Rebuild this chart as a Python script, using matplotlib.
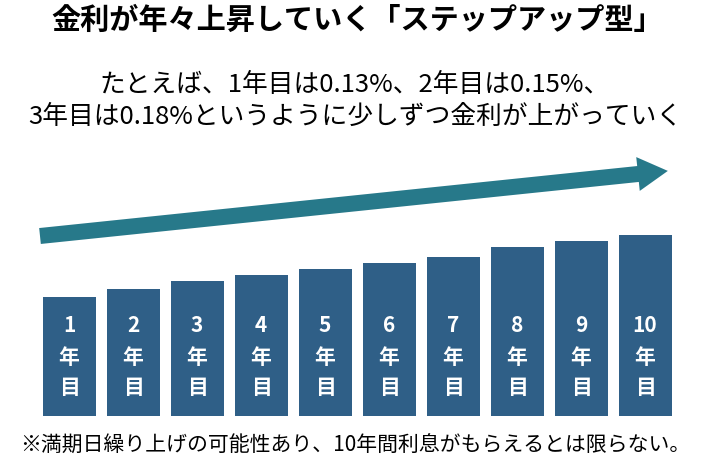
import numpy as np
import matplotlib.pyplot as plt
from matplotlib.patches import FancyArrow

plt.rcParams['font.family'] = 'Noto Sans CJK JP'

years = ["1", "2", "3", "4", "5", "6", "7", "8", "9", "10"]
bar_heights = [119, 127, 135, 141, 147, 153, 159, 169, 175, 181]

title = "金利が年々上昇していく「ステップアップ型」"
subtitle = "たとえば、1年目は0.13%、2年目は0.15%、\n3年目は0.18%というように少しずつ金利が上がっていく"
note = "※満期日繰り上げの可能性あり、10年間利息がもらえるとは限らない。"

fig = plt.figure(figsize=(7.1, 4.62), dpi=100)
ax = fig.add_axes([0, 0, 1, 1])
ax.set_xlim(0, 710)
ax.set_ylim(462, 0)
ax.axis('off')

base = 416
x = 69 + 64.0 * np.arange(len(years))
ax.bar(x, [-h for h in bar_heights], width=53, bottom=base, color='#2f5f87')
for xi, y in zip(x, years):
    for txt, yy in zip([y, "年", "目"], [326, 357, 388]):
        ax.text(xi, yy, txt, color='white', fontsize=15, fontweight='bold',
                ha='center', va='center')

ax.add_patch(FancyArrow(40, 236, 598, -62, width=16, head_width=34,
                        head_length=30, length_includes_head=False,
                        color='#27798a', lw=0))

ax.text(357, 20, title, fontsize=21, fontweight='bold', ha='center', va='center')
ax.text(355, 101, subtitle, fontsize=18.5, ha='center', va='center', linespacing=1.3)
ax.text(355, 446, note, fontsize=15, ha='center', va='center')

fig.savefig('out.png', dpi=100)
